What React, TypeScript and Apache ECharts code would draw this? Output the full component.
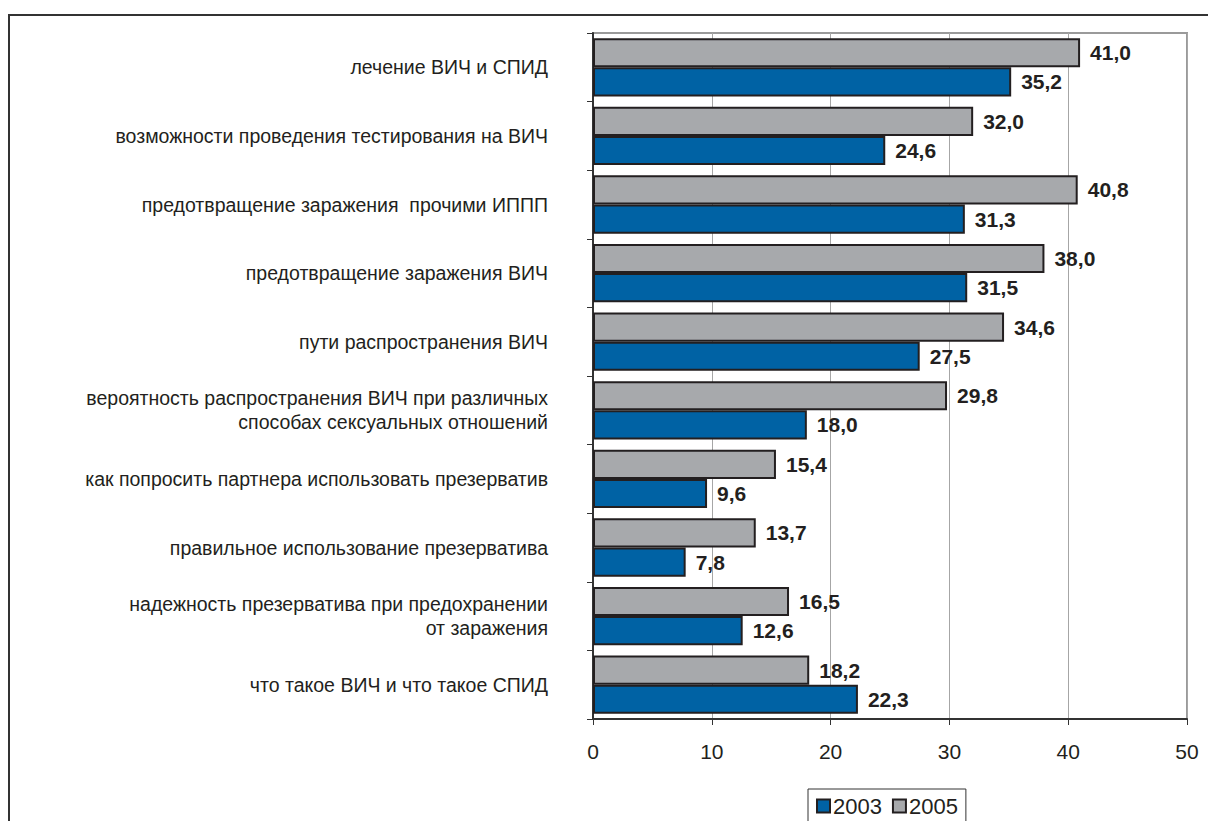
import React, { useEffect, useRef } from "react";
import * as echarts from "echarts";

// categories listed bottom-to-top (ECharts category y axis starts at bottom)
const categories = [
  "что такое ВИЧ и что такое СПИД",
  "надежность презерватива при предохранении\nот заражения",
  "правильное использование презерватива",
  "как попросить партнера использовать презерватив",
  "вероятность распространения ВИЧ при различных\nспособах сексуальных отношений",
  "пути распространения ВИЧ",
  "предотвращение заражения ВИЧ",
  "предотвращение заражения  прочими ИППП",
  "возможности проведения тестирования на ВИЧ",
  "лечение ВИЧ и СПИД",
];
const values2003 = [22.3, 12.6, 7.8, 9.6, 18.0, 27.5, 31.5, 31.3, 24.6, 35.2];
const values2005 = [18.2, 16.5, 13.7, 15.4, 29.8, 34.6, 38.0, 40.8, 32.0, 41.0];
const seriesNames = ["2003", "2005"];
const xTicks = [0, 10, 20, 30, 40, 50];

const FONT = "'Liberation Sans', Arial, sans-serif";
const DARK = "#231F20";

export default function App() {
  const ref = useRef<HTMLDivElement>(null);
  useEffect(() => {
    if (!ref.current) return;
    const chart = echarts.init(ref.current, null, { renderer: "svg" });
    const fmt = (p: any) => Number(p.value).toFixed(1).replace(".", ",");
    const label = {
      show: true,
      position: "right",
      distance: 10,
      formatter: fmt,
      fontFamily: FONT,
      fontWeight: "bold",
      fontSize: 21,
      color: DARK,
    };
    chart.setOption({
      animation: false,
      backgroundColor: "#ffffff",
      textStyle: { fontFamily: FONT },
      graphic: [
        {
          type: "rect",
          shape: { x: 9, y: 15, width: 1400, height: 1000 },
          style: { fill: "none", stroke: "#333333", lineWidth: 2 },
          silent: true,
        },
      ],
      grid: {
        left: 593,
        top: 33,
        right: 21,
        bottom: 102,
        show: true,
        borderColor: "#9a9a9a",
        borderWidth: 2,
        containLabel: false,
      },
      legend: {
        left: 808,
        top: 789,
        data: seriesNames,
        icon: "rect",
        itemWidth: 13,
        itemHeight: 13,
        itemGap: 10,
        padding: [6, 8, 8, 8],
        borderColor: "#333333",
        borderWidth: 1,
        textStyle: { fontFamily: FONT, fontSize: 22, color: DARK, padding: [0, 0, 0, -2] },
      },
      xAxis: {
        type: "value",
        min: 0,
        max: 50,
        interval: 10,
        axisLine: { show: true, lineStyle: { color: "#333333", width: 2 } },
        axisTick: { show: true, length: 6, lineStyle: { color: "#333333", width: 1 } },
        axisLabel: {
          margin: 22,
          fontFamily: FONT,
          fontSize: 21,
          color: DARK,
          formatter: (v: number) => (xTicks.includes(v) ? String(v) : ""),
        },
        splitLine: { show: true, lineStyle: { color: "#a6a6a6", width: 1 } },
      },
      yAxis: {
        type: "category",
        data: categories,
        axisLine: { show: true, lineStyle: { color: "#333333", width: 2 } },
        axisTick: { show: true, length: 6, lineStyle: { color: "#333333", width: 1 } },
        axisLabel: {
          margin: 45,
          fontFamily: FONT,
          fontSize: 19.5,
          lineHeight: 24,
          color: DARK,
          align: "right",
        },
        splitLine: { show: false },
      },
      series: [
        {
          name: seriesNames[1],
          type: "bar",
          data: values2005,
          barGap: "0%",
          barCategoryGap: "15%",
          itemStyle: { color: "#A7A9AC", borderColor: DARK, borderWidth: 2 },
          label,
        },
        {
          name: seriesNames[0],
          type: "bar",
          data: values2003,
          barGap: "0%",
          barCategoryGap: "15%",
          itemStyle: { color: "#0062A4", borderColor: DARK, borderWidth: 2 },
          label,
        },
      ],
    });
    return () => chart.dispose();
  }, []);
  return (
    <div
      ref={ref}
      style={{ position: "fixed", left: 0, top: 0, width: 1208, height: 821 }}
    />
  );
}
